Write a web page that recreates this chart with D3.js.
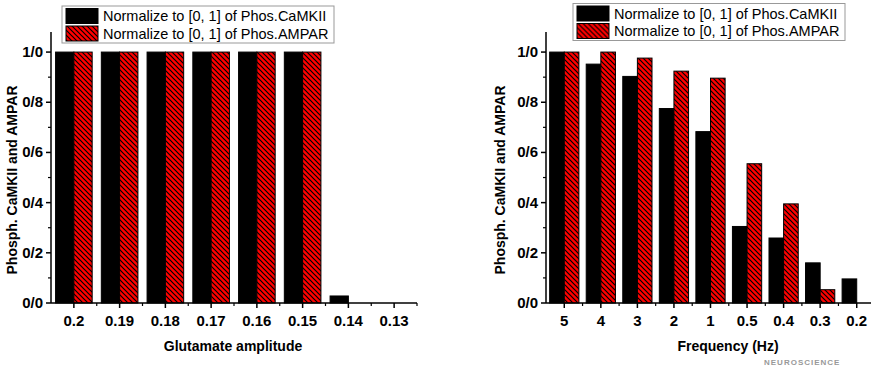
<!DOCTYPE html>
<html>
<head>
<meta charset="utf-8">
<script src="https://cdn.jsdelivr.net/npm/d3@7"></script>
<style>
  body { margin: 0; background: #fff; }
  svg { display: block; font-family: "Liberation Sans", Arial, sans-serif; }
  .tick-label { font-weight: bold; font-size: 15px; }
  .axis-title { font-weight: bold; font-size: 14px; }
  .legend-text { font-size: 14.5px; }
</style>
</head>
<body>
<div id="chart"></div>
<script>
// Data
const ampLabels = ["0.2", "0.19", "0.18", "0.17", "0.16", "0.15", "0.14", "0.13"];
const ampCaMKII = [1, 1, 1, 1, 1, 1, 0.028, 0];
const ampAMPAR = [1, 1, 1, 1, 1, 1, 0, 0];

const freqLabels = ["5", "4", "3", "2", "1", "0.5", "0.4", "0.3", "0.2"];
const freqCaMKII = [1, 0.952, 0.903, 0.775, 0.683, 0.305, 0.259, 0.16, 0.096];
const freqAMPAR = [1, 1, 0.976, 0.924, 0.896, 0.555, 0.395, 0.053, 0];

const yTicks = [0, 0.2, 0.4, 0.6, 0.8, 1.0];
const yTickLabels = ["0/0", "0/2", "0/4", "0/6", "0/8", "1/0"];
const yMinor = [0.1, 0.3, 0.5, 0.7, 0.9];
const legendLabels = ["Normalize to [0, 1] of Phos.CaMKII", "Normalize to [0, 1] of Phos.AMPAR"];

const W = 871, H = 366;

const svg = d3.select("#chart")
  .append("svg")
  .attr("width", W)
  .attr("height", H);

// Hatch pattern for the AMPAR bars
svg.append("defs")
  .append("pattern")
  .attr("id", "hatch")
  .attr("patternUnits", "userSpaceOnUse")
  .attr("width", 5)
  .attr("height", 5)
  .call((p) => {
    p.append("rect").attr("width", 5).attr("height", 5).attr("fill", "#ff0000");
    p.append("path")
      .attr("d", "M-1,-1 L6,6 M-1,4 L1,6 M4,-1 L6,1")
      .attr("stroke", "#000")
      .attr("stroke-width", 1.2);
  });

function drawPanel(opt) {
  const g = svg.append("g");

  const y = d3.scaleLinear().domain([0, 1.08]).range([opt.bottom, opt.top]);
  const x = d3.scaleBand().domain(opt.labels).range([opt.left, opt.right]).padding(0);
  const bw = x.bandwidth() * 0.4;

  const rows = opt.labels.map((l, i) => ({ label: l, a: opt.caMKII[i], b: opt.ampar[i] }));

  // CaMKII bars (black)
  g.selectAll(".bar-a")
    .data(rows.filter((d) => d.a > 0))
    .enter()
    .append("rect")
    .attr("x", (d) => x(d.label) + x.bandwidth() / 2 - bw)
    .attr("y", (d) => y(d.a))
    .attr("width", bw)
    .attr("height", (d) => y(0) - y(d.a))
    .attr("fill", "#000")
    .attr("stroke", "#000")
    .attr("stroke-width", 1);

  // AMPAR bars (red hatch)
  g.selectAll(".bar-b")
    .data(rows.filter((d) => d.b > 0))
    .enter()
    .append("rect")
    .attr("x", (d) => x(d.label) + x.bandwidth() / 2)
    .attr("y", (d) => y(d.b))
    .attr("width", bw)
    .attr("height", (d) => y(0) - y(d.b))
    .attr("fill", "url(#hatch)")
    .attr("stroke", "#000")
    .attr("stroke-width", 1);

  // Y axis
  g.append("line")
    .attr("x1", opt.left).attr("x2", opt.left)
    .attr("y1", opt.top).attr("y2", opt.bottom)
    .attr("stroke", "#000").attr("stroke-width", 1.5);

  g.selectAll(".ytick")
    .data(yTicks)
    .enter()
    .append("line")
    .attr("x1", opt.left - 5).attr("x2", opt.left)
    .attr("y1", (d) => y(d)).attr("y2", (d) => y(d))
    .attr("stroke", "#000").attr("stroke-width", 1.5);

  g.selectAll(".yminor")
    .data(yMinor)
    .enter()
    .append("line")
    .attr("x1", opt.left - 3).attr("x2", opt.left)
    .attr("y1", (d) => y(d)).attr("y2", (d) => y(d))
    .attr("stroke", "#000").attr("stroke-width", 1.2);

  g.selectAll(".ylabel")
    .data(yTicks)
    .enter()
    .append("text")
    .attr("class", "tick-label")
    .attr("x", opt.left - 8)
    .attr("y", (d) => y(d) + 5)
    .attr("text-anchor", "end")
    .text((d, i) => yTickLabels[i]);

  // X axis
  g.append("line")
    .attr("x1", opt.left).attr("x2", opt.right)
    .attr("y1", opt.bottom).attr("y2", opt.bottom)
    .attr("stroke", "#000").attr("stroke-width", 1.5);

  g.selectAll(".xtick")
    .data(opt.labels)
    .enter()
    .append("line")
    .attr("x1", (d) => x(d) + x.bandwidth() / 2)
    .attr("x2", (d) => x(d) + x.bandwidth() / 2)
    .attr("y1", opt.bottom).attr("y2", opt.bottom + 5)
    .attr("stroke", "#000").attr("stroke-width", 1.5);

  g.selectAll(".xminor")
    .data(opt.labels)
    .enter()
    .append("line")
    .attr("x1", (d) => x(d) + x.bandwidth())
    .attr("x2", (d) => x(d) + x.bandwidth())
    .attr("y1", opt.bottom).attr("y2", opt.bottom + 3)
    .attr("stroke", "#000").attr("stroke-width", 1.2);

  g.selectAll(".xlabel")
    .data(opt.labels)
    .enter()
    .append("text")
    .attr("class", "tick-label")
    .attr("x", (d) => x(d) + x.bandwidth() / 2)
    .attr("y", opt.bottom + 23)
    .attr("text-anchor", "middle")
    .text((d) => d);

  // Axis titles
  g.append("text")
    .attr("class", "axis-title")
    .attr("x", opt.xTitleX)
    .attr("y", 351)
    .attr("text-anchor", "middle")
    .text(opt.xTitle);

  g.append("text")
    .attr("class", "axis-title")
    .attr("transform", `translate(${opt.yTitleX},180) rotate(-90)`)
    .attr("text-anchor", "middle")
    .text("Phosph. CaMKII and AMPAR");

  // Legend
  const lg = g.append("g").attr("transform", `translate(${opt.legendX},${opt.legendY})`);
  lg.append("rect")
    .attr("width", opt.legendW).attr("height", 37)
    .attr("fill", "#fff").attr("stroke", "#999").attr("stroke-width", 1);
  lg.selectAll(".sw")
    .data(legendLabels)
    .enter()
    .append("rect")
    .attr("x", 4).attr("y", (d, i) => 2.5 + i * 17.5)
    .attr("width", 32).attr("height", 15)
    .attr("fill", (d, i) => (i === 0 ? "#000" : "url(#hatch)"))
    .attr("stroke", "#000").attr("stroke-width", 1);
  lg.selectAll(".lt")
    .data(legendLabels)
    .enter()
    .append("text")
    .attr("class", "legend-text")
    .attr("x", 41).attr("y", (d, i) => 15 + i * 17.5)
    .text((d) => d);
}

drawPanel({
  labels: ampLabels, caMKII: ampCaMKII, ampar: ampAMPAR,
  left: 51, right: 417, top: 32, bottom: 303,
  xTitle: "Glutamate amplitude", xTitleX: 233, yTitleX: 17,
  legendX: 62, legendY: 6, legendW: 272
});

drawPanel({
  labels: freqLabels, caMKII: freqCaMKII, ampar: freqAMPAR,
  left: 546, right: 875, top: 32, bottom: 303,
  xTitle: "Frequency (Hz)", xTitleX: 728, yTitleX: 505,
  legendX: 573, legendY: 3.5, legendW: 272
});

// Small watermark in the bottom-right corner
svg.append("text")
  .attr("x", 764).attr("y", 365)
  .attr("font-size", 8).attr("font-weight", "bold")
  .attr("fill", "#999")
  .attr("letter-spacing", 1)
  .text("NEUROSCIENCE");
</script>
</body>
</html>
